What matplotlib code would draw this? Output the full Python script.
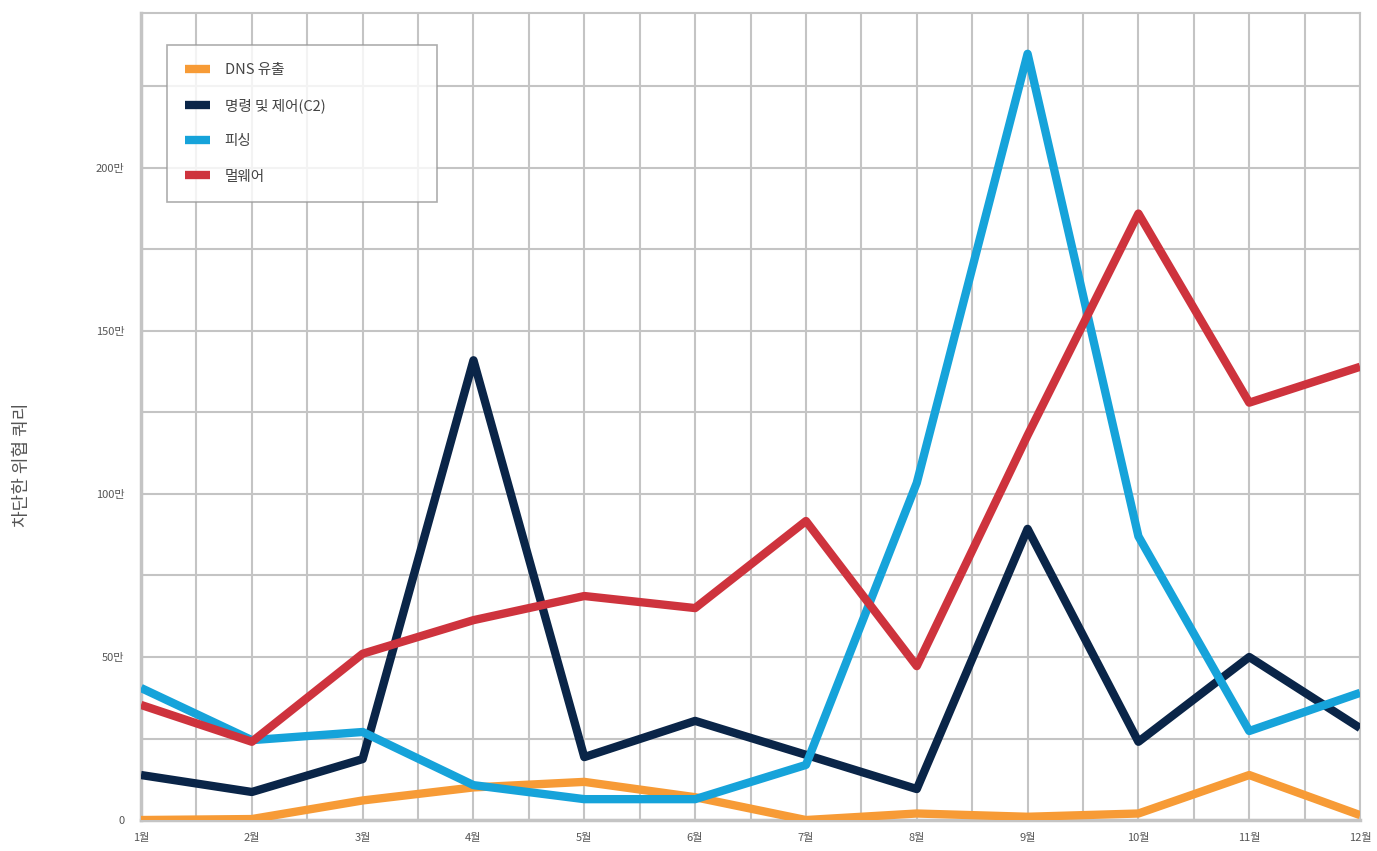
import numpy as np
import matplotlib.pyplot as plt
from matplotlib.ticker import MultipleLocator

plt.rcParams['font.family'] = ['Noto Sans CJK KR', 'DejaVu Sans']

# DATA (values in 만 = 10,000 queries)
months      = ['1월', '2월', '3월', '4월', '5월', '6월', '7월', '8월', '9월', '10월', '11월', '12월']
dns_leak    = [0, 0.3, 6, 10, 11.7, 7, 0, 2, 1, 2, 13.8, 1.5]
c2          = [13.8, 8.6, 18.7, 141, 19.3, 30.4, 20, 9.5, 89.3, 24, 50, 28.2]
phishing    = [40.5, 24.5, 27, 10.7, 6.4, 6.4, 16.9, 103.4, 235, 87, 27.3, 39]
malware     = [35.3, 24, 51, 61.3, 68.7, 65, 91.7, 47.2, 118, 186, 128, 139]

series = [
    ('DNS 유출',        dns_leak, '#F79B36'),
    ('명령 및 제어(C2)', c2,       '#0A2548'),
    ('피싱',            phishing, '#16A3DA'),
    ('멀웨어',          malware,  '#CE333D'),
]
y_ticks  = [0, 50, 100, 150, 200]
y_labels = ['0', '50만', '100만', '150만', '200만']

fig = plt.figure(figsize=(13.77, 8.51), dpi=100)
ax  = fig.add_axes([0.1024, 0.0364, 0.8853, 0.9483])

x = np.arange(len(months))
for name, vals, color in series:
    ax.plot(x, np.array(vals) * 1e4, color=color, lw=6, label=name,
            solid_joinstyle='round', solid_capstyle='butt', zorder=3)

ax.set_xlim(0, len(months) - 1)
ax.set_ylim(0, 247.5e4)

ax.set_xticks(x)
ax.set_xticklabels(months)
ax.xaxis.set_minor_locator(MultipleLocator(0.5))
ax.set_yticks([v * 1e4 for v in y_ticks])
ax.set_yticklabels(y_labels)
ax.yaxis.set_minor_locator(MultipleLocator(25e4))

ax.grid(which='both', color='#C4C4C4', lw=1.5, zorder=0)
ax.tick_params(which='both', length=0)
ax.tick_params(axis='x', labelsize=8, colors='#555555', pad=9)
ax.tick_params(axis='y', labelsize=8, colors='#555555', pad=12)

for s in ax.spines.values():
    s.set_color('#C4C4C4')
    s.set_linewidth(1.5)
ax.spines['left'].set_linewidth(2.5)
ax.spines['bottom'].set_linewidth(2.5)

fig.text(22 / 1377, 1 - 465 / 851, '차단한 위협 쿼리', rotation=90, fontsize=13,
         color='#555555', ha='center', va='center')

leg = ax.legend(loc='upper left', bbox_to_anchor=(0.0213, 0.3, 0.2215, 0.6603),
                mode='expand', frameon=True, fancybox=False, edgecolor='#999999',
                fontsize=10.5, handlelength=1.7, handletextpad=1.0, labelspacing=1.45,
                borderpad=1.25, borderaxespad=0)
leg.get_frame().set_linewidth(1.2)
for t in leg.get_texts():
    t.set_color('#444444')
for h in leg.get_lines():
    h.set_linewidth(6)

fig.savefig('out.png', dpi=100)
